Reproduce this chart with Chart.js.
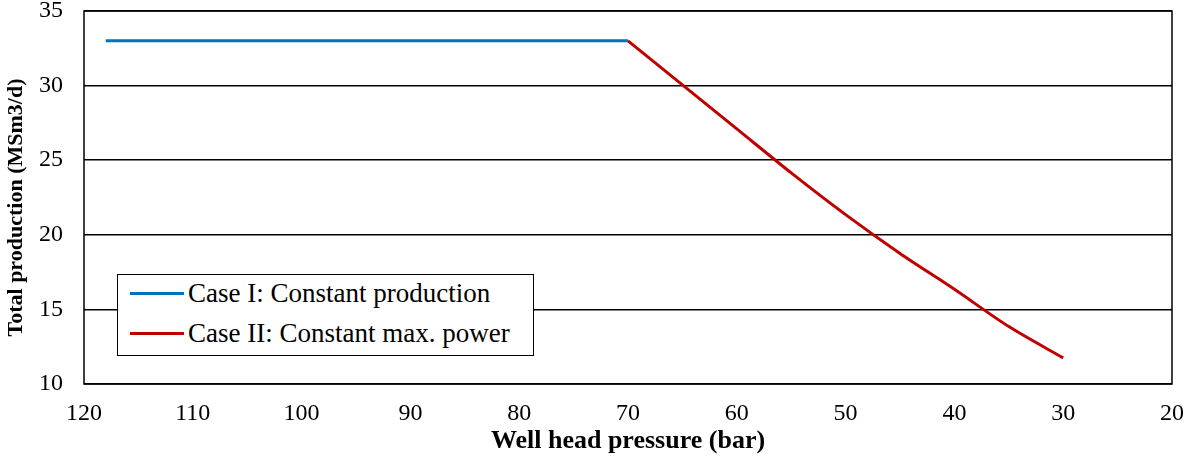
<!DOCTYPE html>
<html>
<head>
<meta charset="utf-8">
<script src="https://cdn.jsdelivr.net/npm/chart.js@4"></script>
<style>
  body { margin: 0; background: #fff; }
  #wrap { position: relative; width: 1188px; height: 457px; }
  #legend {
    position: absolute; left: 117px; top: 274px; width: 417px; height: 82px;
    border: 1.5px solid #000; background: #fff; box-sizing: border-box;
    font-family: "Liberation Serif", "Times New Roman", serif; font-size: 27px; color: #000;
  }
  .row { position: absolute; left: 12px; height: 30px; display: flex; align-items: center; white-space: nowrap; }
  .row .sw { width: 54px; height: 3px; margin-right: 4px; }
</style>
</head>
<body>
<div id="wrap">
  <canvas id="chart" width="1188" height="457"></canvas>
  <div id="legend"></div>
</div>
<script>
// well head pressure (bar) and total production (MSm3/d)
const caseIPressure = [118, 70];
const caseIProduction = [33.0, 33.0];
const caseIIPressure = [70, 65, 60, 55, 50, 45, 40, 35, 30];
const caseIIProduction = [33.0, 30.05, 27.1, 24.15, 21.35, 18.75, 16.35, 13.85, 11.75];
const seriesNames = ['Case I: Constant production', 'Case II: Constant max. power'];
const seriesColors = ['#0070C0', '#C00000'];
const xTitle = 'Well head pressure (bar)';
const yTitle = 'Total production (MSm3/d)';

const serif = '"Liberation Serif", "Times New Roman", serif';
const tickFont = { family: serif, size: 24 };

// outer box around the plot area and the rotated y title
const frame = {
    id: 'frame',
    afterDraw(chart) {
        const a = chart.chartArea, ctx = chart.ctx;
        ctx.save();
        ctx.strokeStyle = '#000';
        ctx.lineWidth = 1.5;
        ctx.strokeRect(a.left, a.top, a.right - a.left, a.bottom - a.top);
        ctx.translate(16, (a.top + a.bottom) / 2 + 10);
        ctx.rotate(-Math.PI / 2);
        ctx.font = 'bold 22px ' + serif;
        ctx.fillStyle = '#000';
        ctx.textAlign = 'center';
        ctx.textBaseline = 'middle';
        ctx.fillText(yTitle, 0, 0);
        ctx.restore();
    }
};

new Chart(document.getElementById('chart'), {
    type: 'scatter',
    data: {
        datasets: [
            {
                label: seriesNames[0],
                data: caseIPressure.map((x, i) => ({ x: x, y: caseIProduction[i] })),
                borderColor: seriesColors[0],
                borderWidth: 3,
                showLine: true,
                pointRadius: 0
            },
            {
                label: seriesNames[1],
                data: caseIIPressure.map((x, i) => ({ x: x, y: caseIIProduction[i] })),
                borderColor: seriesColors[1],
                borderWidth: 3,
                showLine: true,
                pointRadius: 0,
                tension: 0.3
            }
        ]
    },
    options: {
        responsive: false,
        animation: false,
        layout: { padding: { left: 0, top: 11, right: 16, bottom: 0 } },
        plugins: { legend: { display: false }, tooltip: { enabled: false } },
        scales: {
            x: {
                type: 'linear', min: 20, max: 120, reverse: true,
                grid: { display: false, drawTicks: false },
                border: { display: false },
                ticks: { stepSize: 10, color: '#000', font: tickFont, padding: 15, maxRotation: 0 },
                title: {
                    display: true, text: xTitle, color: '#000',
                    font: { family: serif, size: 26, weight: 'bold' }, padding: { top: 0, bottom: 0 }
                },
                afterFit(scale) {
                    scale.height = 73;
                    scale.paddingLeft = 0;
                    scale.paddingRight = 0;
                }
            },
            y: {
                min: 10, max: 35,
                grid: { color: '#000', lineWidth: 1.5, drawTicks: false },
                border: { display: false },
                ticks: { stepSize: 5, color: '#000', font: tickFont, padding: 21 },
                afterFit(scale) {
                    scale.width = 84;
                    scale.paddingTop = 0;
                    scale.paddingBottom = 0;
                }
            }
        }
    },
    plugins: [frame]
});

// legend box inside the plot
const legend = document.getElementById('legend');
seriesNames.forEach((name, i) => {
    const row = document.createElement('div');
    row.className = 'row';
    row.style.top = (3 + i * 40) + 'px';
    row.innerHTML = '<div class="sw" style="background:' + seriesColors[i] + '"></div><span>' + name + '</span>';
    legend.appendChild(row);
});
</script>
</body>
</html>
